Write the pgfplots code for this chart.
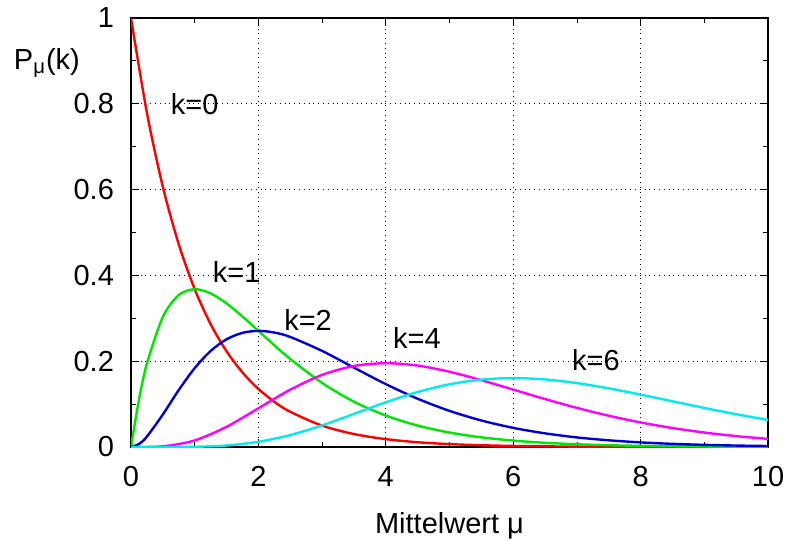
\documentclass[border=0pt]{standalone}
\usepackage{pgfplots}
\pgfplotsset{compat=1.18}
\usepackage{fontspec}
\setmainfont{Liberation Sans}
\definecolor{cgreen}{RGB}{0,230,0}
\definecolor{cblue}{RGB}{0,0,210}
\definecolor{cmag}{RGB}{255,0,255}
\definecolor{ccyan}{RGB}{0,235,235}
\newcommand{\bigf}{\fontsize{14.5}{16}\selectfont}
\begin{document}
\begin{tikzpicture}
\useasboundingbox (-65.5pt,-46.5pt) rectangle (330pt,223.5pt);
\begin{axis}[
  scale only axis, width=318.5pt, height=214.5pt,
  xmin=0, xmax=10, ymin=0, ymax=1,
  xtick={0,2,...,10}, ytick={0,0.2,...,1},
  yticklabels={0,0.2,0.4,0.6,0.8,1},
  minor x tick num=1, minor y tick num=1,
  tick align=inside, tick pos=both,
  major tick length=4pt, minor tick length=2.5pt,
  grid=major, major grid style={black, dotted, thin},
  axis line style={black, line width=0.7pt},
  every tick/.style={black, thin},
  tick label style={font=\bigf},
  /pgf/number format/assume math mode=true,
  xticklabel style={yshift=-6pt},
  yticklabel style={xshift=-5pt},
  xlabel={Mittelwert μ},
  xlabel style={font=\bigf, yshift=-6pt},
  clip mode=individual,
]
\addplot[red, line width=1.2pt, smooth] coordinates {
(0,1) (0.25,0.778801) (0.5,0.606531) (0.75,0.472367) (1,0.367879) (1.25,0.286505) (1.5,0.223130) (1.75,0.173774) (2,0.135335) (2.25,0.105399) (2.5,0.082085) (3,0.049787) (3.5,0.030197) (4,0.018316) (4.5,0.011109) (5,0.006738) (5.5,0.004087) (6,0.002479) (6.5,0.001503) (7,0.000912) (7.5,0.000553) (8,0.000335) (8.5,0.000203) (9,0.000123) (9.5,0.000075) (10,0.000045)};
\addplot[cgreen, line width=1.2pt, smooth] coordinates {
(0,0) (0.125,0.1103) (0.25,0.1947) (0.5,0.3033) (0.75,0.3543) (1,0.3679) (1.25,0.3581) (1.5,0.3347) (1.75,0.3041) (2,0.2707) (2.25,0.2371) (2.5,0.2052) (3,0.1494) (3.5,0.1057) (4,0.0733) (4.5,0.0500) (5,0.0337) (5.5,0.0225) (6,0.0149) (6.5,0.00977) (7,0.00638) (7.5,0.00415) (8,0.00268) (8.5,0.00173) (9,0.00111) (9.5,0.00071) (10,0.00045)};
\addplot[cblue, line width=1.2pt, smooth] coordinates {
(0,0) (0.125,0.0069) (0.25,0.0243) (0.5,0.0758) (0.75,0.1329) (1,0.1839) (1.25,0.2238) (1.5,0.2510) (1.75,0.2661) (2,0.2707) (2.25,0.2668) (2.5,0.2565) (3,0.2240) (3.5,0.1850) (4,0.1465) (4.5,0.1125) (5,0.0842) (5.5,0.0618) (6,0.0446) (6.5,0.0318) (7,0.0223) (7.5,0.0156) (8,0.0107) (8.5,0.00735) (9,0.0050) (9.5,0.00338) (10,0.00227)};
\addplot[cmag, line width=1.2pt, smooth] coordinates {
(0,0) (0.5,0.00158) (1,0.01533) (1.5,0.04707) (2,0.09022) (2.5,0.13360) (3,0.16803) (3.5,0.18881) (4,0.19537) (4.5,0.18981) (5,0.17547) (5.5,0.15583) (6,0.13385) (6.5,0.11179) (7,0.09123) (7.5,0.07291) (8,0.05725) (8.5,0.04426) (9,0.03374) (9.5,0.02540) (10,0.01892)};
\addplot[ccyan, line width=1.2pt, smooth] coordinates {
(0,0) (0.5,0.000013) (1,0.000511) (1.5,0.00353) (2,0.01203) (2.5,0.02783) (3,0.05041) (3.5,0.07710) (4,0.10420) (4.5,0.12812) (5,0.14622) (5.5,0.15713) (6,0.16062) (6.5,0.15748) (7,0.14900) (7.5,0.13672) (8,0.12214) (8.5,0.10658) (9,0.09109) (9.5,0.07642) (10,0.06306)};
\node[font=\bigf] at (axis cs:1.0,0.8) {k=0};
\node[font=\bigf] at (axis cs:1.66,0.408) {k=1};
\node[font=\bigf] at (axis cs:2.78,0.296) {k=2};
\node[font=\bigf] at (axis cs:4.49,0.254) {k=4};
\node[font=\bigf] at (axis cs:7.3,0.203) {k=6};
\node[font=\bigf] at (rel axis cs:-0.132,0.895) {P\textsubscript{μ}(k)};
\end{axis}
\end{tikzpicture}
\end{document}
